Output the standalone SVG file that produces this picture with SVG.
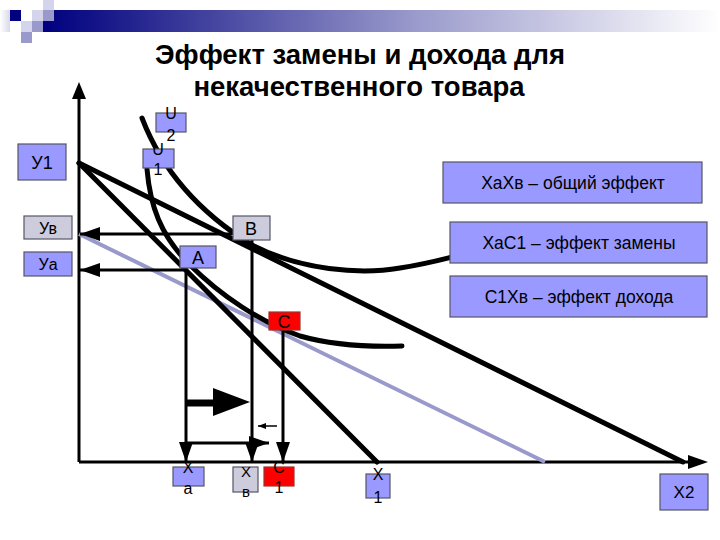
<svg xmlns="http://www.w3.org/2000/svg" width="720" height="540" viewBox="0 0 720 540">
<defs>
<linearGradient id="bar" x1="0" y1="0" x2="1" y2="0">
<stop offset="0" stop-color="#000080"/>
<stop offset="0.1" stop-color="#1a1a8a"/>
<stop offset="0.55" stop-color="#9a9acc"/>
<stop offset="1" stop-color="#ffffff"/>
</linearGradient>
<linearGradient id="lft" x1="0" y1="0" x2="1" y2="0">
<stop offset="0" stop-color="#ffffff"/>
<stop offset="1" stop-color="#d8d8ec"/>
</linearGradient>
<marker id="ah" markerUnits="userSpaceOnUse" markerWidth="20" markerHeight="14" refX="20" refY="7" orient="auto">
<path d="M0,0 L20,7 L0,14 z" fill="#000"/>
</marker>
<marker id="ahs" markerUnits="userSpaceOnUse" markerWidth="8" markerHeight="6" refX="8" refY="3" orient="auto">
<path d="M0,0 L8,3 L0,6 z" fill="#000"/>
</marker>
<style>
.t{font-family:"Liberation Sans",Arial,sans-serif;fill:#000}
.bx{fill:#9999ff;stroke:#555566;stroke-width:1.2}
.gy{fill:#ccccdd;stroke:#555566;stroke-width:1.2}
.rd{fill:#ff0000;stroke:#993333;stroke-width:1.2}
.thick{stroke:#000;stroke-width:5;fill:none;stroke-linecap:round}
.ax{stroke:#000;stroke-width:3;fill:none}
.dr{stroke:#000;stroke-width:3;fill:none}
</style>
</defs>

<g id="header">
<rect x="0" y="10" width="10" height="22" fill="url(#lft)"/>
<rect x="43" y="10" width="677" height="22" fill="url(#bar)"/>
<rect x="10" y="10" width="11" height="11" fill="#000080"/>
<rect x="21" y="21" width="11" height="11" fill="#d4d4ec"/>
<rect x="21" y="32" width="11" height="11" fill="#9999cc"/>
<rect x="32" y="10" width="11" height="11" fill="#d4d4ec"/>
<rect x="32" y="21" width="11" height="11" fill="#9999cc"/>
<rect x="43" y="0" width="11" height="10" fill="#d4d4ec"/>
<rect x="43" y="10" width="11" height="11" fill="#9999cc"/>
</g>

<g id="title">
<text class="t" x="360" y="64" font-size="27.5" font-weight="bold" text-anchor="middle">Эффект замены и дохода для</text>
<text class="t" x="359" y="96" font-size="27.5" font-weight="bold" text-anchor="middle">некачественного товара</text>
</g>

<g id="connectors">
<line class="ax" x1="79" y1="462" x2="79" y2="97"/>
<path d="M72,99 L79,82 L86,99 z" fill="#000"/>
<line class="ax" x1="79" y1="462" x2="690" y2="462"/>
<path d="M688,455 L708,462 L688,469 z" fill="#000"/>
<line x1="79" y1="234" x2="545" y2="462" stroke="#9999cc" stroke-width="4"/>
<line class="thick" x1="79" y1="163" x2="683" y2="462"/>
<line class="thick" x1="79" y1="163" x2="377" y2="462"/>
<path class="thick" d="M142,118 C160,165 195,210 252,245 C300,270 360,275 400,268 C425,264 440,260 452,257"/>
<path class="thick" d="M147,169 C150,205 160,235 190,265 C220,295 260,322 300,336 C335,346 370,347 402,346"/>
<line class="dr" x1="232" y1="234" x2="80" y2="234" marker-end="url(#ah)"/>
<line class="dr" x1="186" y1="270" x2="80" y2="270" marker-end="url(#ah)"/>
<line class="dr" x1="186" y1="268" x2="186" y2="462" marker-end="url(#ah)"/>
<line class="dr" x1="252" y1="240" x2="252" y2="462" marker-end="url(#ah)"/>
<line class="dr" x1="283" y1="330" x2="283" y2="462" marker-end="url(#ah)"/>
<line class="dr" x1="186" y1="443" x2="269" y2="443" marker-end="url(#ah)"/>
<line x1="186" y1="403" x2="214" y2="403" stroke="#000" stroke-width="7"/>
<path d="M213,388 L250,402 L213,416 z" fill="#000"/>
<line x1="277" y1="426" x2="258" y2="426" stroke="#000" stroke-width="1.5" marker-end="url(#ahs)"/>
</g>

<g id="Y1"><rect class="bx" x="18" y="144" width="48" height="36"/><text class="t" x="42" y="169" font-size="18" text-anchor="middle">У1</text></g>
<g id="Yv"><rect class="gy" x="24" y="216" width="48" height="23"/><text class="t" x="48" y="234" font-size="16" text-anchor="middle">Ув</text></g>
<g id="Ya"><rect class="bx" x="24" y="252" width="48" height="24"/><text class="t" x="48" y="270" font-size="16" text-anchor="middle">Уа</text></g>
<g id="U2"><rect class="bx" x="156" y="113" width="30" height="19"/><text class="t" x="171" y="119" font-size="16" text-anchor="middle">U</text><text class="t" x="171" y="141" font-size="16" text-anchor="middle">2</text></g>
<g id="U1"><rect class="bx" x="143" y="149" width="31" height="19"/><text class="t" x="158" y="155" font-size="16" text-anchor="middle">U</text><text class="t" x="158" y="175" font-size="16" text-anchor="middle">1</text></g>
<g id="A"><rect class="bx" x="180" y="246" width="36" height="22"/><text class="t" x="198" y="264" font-size="18" text-anchor="middle">A</text></g>
<g id="B"><rect class="gy" x="233" y="216" width="37" height="24"/><text class="t" x="251" y="235" font-size="18" text-anchor="middle">B</text></g>
<g id="C"><rect class="rd" x="269" y="312" width="31" height="18"/><text class="t" x="284" y="328" font-size="18" text-anchor="middle">C</text></g>
<g id="Xa"><rect class="bx" x="173" y="467" width="31" height="19"/><text class="t" x="188" y="473" font-size="16" text-anchor="middle">X</text><text class="t" x="188" y="494" font-size="16" text-anchor="middle">a</text></g>
<g id="Xv"><rect class="gy" x="233" y="467" width="25" height="25"/><text class="t" x="246" y="477" font-size="15" text-anchor="middle">X</text><text class="t" x="246" y="497" font-size="15" text-anchor="middle">в</text></g>
<g id="C1"><rect class="rd" x="264" y="467" width="30" height="19"/><text class="t" x="279" y="473" font-size="16" text-anchor="middle">C</text><text class="t" x="279" y="493" font-size="16" text-anchor="middle">1</text></g>
<g id="X1"><rect class="bx" x="366" y="474" width="24" height="24"/><text class="t" x="378" y="480" font-size="16" text-anchor="middle">X</text><text class="t" x="378" y="503" font-size="16" text-anchor="middle">1</text></g>
<g id="X2"><rect class="bx" x="660" y="474" width="48" height="36"/><text class="t" x="684" y="498" font-size="17" text-anchor="middle">X2</text></g>

<g id="legend1"><rect class="bx" x="443" y="162" width="259" height="41"/><text class="t" x="573" y="189" font-size="17.5" text-anchor="middle">ХаХв – общий эффект</text></g>
<g id="legend2"><rect class="bx" x="450" y="222" width="257" height="41"/><text class="t" x="579" y="249" font-size="17.5" text-anchor="middle">ХаС1 – эффект замены</text></g>
<g id="legend3"><rect class="bx" x="450" y="276" width="257" height="41"/><text class="t" x="579" y="303" font-size="17.5" text-anchor="middle">С1Хв – эффект дохода</text></g>
</svg>
